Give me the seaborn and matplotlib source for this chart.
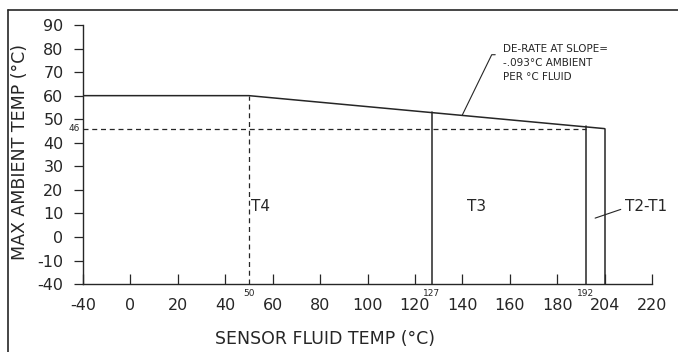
"""
Sensor ambient temperature de-rating chart (T-class zones)
"""

import numpy as np
import pandas as pd
import matplotlib.pyplot as plt
import seaborn as sns
from matplotlib.lines import Line2D

# ========================================================
# 1. DATA
# ========================================================
curve_fluid = [-40, 50, 204]          # sensor fluid temp (C)
curve_ambient = [60, 60, 46]          # max ambient temp (C)
zone_bounds = [50, 127, 192, 204]     # T-class boundaries on fluid temp
derate_limit = 46                     # ambient at end of de-rate line
zone_labels = ["T4", "T3", "T2-T1"]
zone_label_x = [51, 142, 211]
zone_label_y = 13

x_ticks = [-40, 0, 20, 40, 60, 80, 100, 120, 140, 160, 180, 204, 220]
y_ticks = [-40, -10, 0, 10, 20, 30, 40, 50, 60, 70, 80, 90]

note_text = "DE-RATE AT SLOPE=\n-.093\u00b0C AMBIENT\nPER \u00b0C FLUID"

# drawing is not to scale: axis breaks at the low end, 204 sits on the 200 mark
x_src = [-400, -40, 0, 192, 204, 220, 400]
x_dst = [-380, -20, 0, 192, 200, 220, 400]
y_src = [-400, -40, -10, 400]
y_dst = [-380, -20, -10, 400]

INK = "#262626"

# ========================================================
# 2. FIGURE
# ========================================================
sns.set_theme(style="white")
plt.rcParams["font.family"] = ["DejaVu Sans"]

fig = plt.figure(figsize=(6.78, 3.52), dpi=100)
ax = fig.add_axes([0.1224, 0.193, 0.8393, 0.736])

ax.set_xscale("function", functions=(lambda v: np.interp(v, x_src, x_dst),
                                     lambda v: np.interp(v, x_dst, x_src)))
ax.set_yscale("function", functions=(lambda v: np.interp(v, y_src, y_dst),
                                     lambda v: np.interp(v, y_dst, y_src)))

df = pd.DataFrame({"fluid": curve_fluid, "ambient": curve_ambient})
sns.lineplot(data=df, x="fluid", y="ambient", ax=ax, color=INK, linewidth=1.1)

# zone boundaries (top of each sits on the de-rate curve)
bottom = y_ticks[0]
for i, xb in enumerate(zone_bounds):
    top = np.interp(xb, curve_fluid, curve_ambient)
    ax.plot([xb, xb], [bottom, top], color=INK, linewidth=1.1 if i else 0.9,
            linestyle="-" if i else (0, (4, 3)))

# dashed limit line at 46
ax.plot([curve_fluid[0], zone_bounds[2]], [derate_limit, derate_limit],
        color=INK, linewidth=0.9, linestyle=(0, (4, 3)))

# zone labels
for lab, lx in zip(zone_labels[:2], zone_label_x[:2]):
    ax.text(lx, zone_label_y, lab, fontsize=11, color=INK, ha="left", va="center")
ax.annotate(zone_labels[2], xy=(198, 8), xytext=(zone_label_x[2], zone_label_y),
            fontsize=11, color=INK, ha="left", va="center",
            arrowprops=dict(arrowstyle="-", color=INK, lw=0.8, relpos=(0, 0.4),
                            shrinkA=1, shrinkB=0))

# de-rate note
x_tip = 140
y_tip = np.interp(x_tip, curve_fluid, curve_ambient)
ax.annotate(note_text, xy=(x_tip, y_tip), xytext=(157, 81.8),
            fontsize=7.5, color=INK, ha="left", va="top", linespacing=1.45,
            arrowprops=dict(arrowstyle="-", color=INK, lw=0.8, relpos=(0, 0.72),
                            shrinkA=3, shrinkB=0,
                            connectionstyle="angle,angleA=0,angleB=64,rad=0"))

# small value labels on the axes
for xb in zone_bounds[:3]:
    ax.text(xb, -0.035, str(xb), transform=ax.get_xaxis_transform(),
            fontsize=6.5, color=INK, ha="center", va="center")
ax.text(-0.006, derate_limit, str(derate_limit), transform=ax.get_yaxis_transform(),
        fontsize=6.5, color=INK, ha="right", va="center")

# ========================================================
# 3. AXES STYLE
# ========================================================
ax.set_xlim(-40, 220)
ax.set_ylim(-40, 90)
ax.set_xticks(x_ticks)
ax.set_xticklabels([str(v) for v in x_ticks])
ax.set_yticks(y_ticks)
ax.set_yticklabels([str(v) for v in y_ticks])
ax.minorticks_off()

for side in ["top", "right"]:
    ax.spines[side].set_visible(False)
for side in ["left", "bottom"]:
    ax.spines[side].set_color(INK)
    ax.spines[side].set_linewidth(1.0)

ax.tick_params(axis="x", direction="in", length=7, width=0.9, color=INK,
               labelsize=11.5, labelcolor=INK, pad=10, bottom=True)
ax.tick_params(axis="y", direction="out", length=6.5, width=0.9, color=INK,
               labelsize=11.5, labelcolor=INK, pad=7.5, left=True)

ax.set_xlabel("SENSOR FLUID TEMP (\u00b0C)", fontsize=12.5, color=INK)
ax.set_ylabel("MAX AMBIENT TEMP (\u00b0C)", fontsize=12.5, color=INK)
ax.xaxis.set_label_coords(0.425, -0.178)
ax.yaxis.set_label_coords(-0.094, 0.51)

# page border of the original drawing
fig.add_artist(Line2D([8 / 678, 1.0], [1 - 10 / 352, 1 - 10 / 352],
                      transform=fig.transFigure, color=INK, linewidth=1.2))
fig.add_artist(Line2D([8 / 678, 8 / 678], [0.0, 1 - 10 / 352],
                      transform=fig.transFigure, color=INK, linewidth=1.2))

fig.savefig("out.png", dpi=100, facecolor="white")
plt.close(fig)
